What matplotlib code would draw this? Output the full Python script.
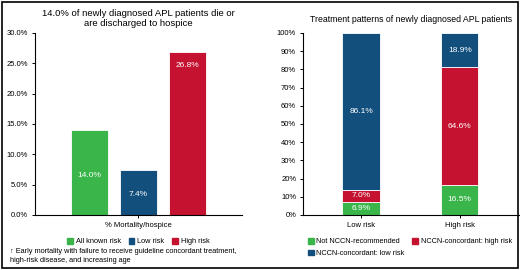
import matplotlib.pyplot as plt
from matplotlib.patches import Rectangle, Patch
from matplotlib.ticker import PercentFormatter

# data - left panel
mort_groups = ['All known risk', 'Low risk', 'High risk']
mort_values = [14.0, 7.4, 26.8]

# data - right panel
risk_cats = ['Low risk', 'High risk']
not_nccn = [6.9, 16.5]
nccn_high = [7.0, 64.6]
nccn_low = [86.1, 18.9]

green = '#3ab54a'
blue = '#134f7d'
red = '#c41230'

plt.rcParams['font.family'] = ['Liberation Sans', 'DejaVu Sans']

fig = plt.figure(figsize=(5.2, 2.7), dpi=100)

# kotak tepi luar
fig.patches.append(Rectangle((0.004, 0.006), 0.992, 0.988, transform=fig.transFigure,
                             fill=False, edgecolor='black', linewidth=1.2))

# panel kiri
ax1 = fig.add_axes([0.067, 0.204, 0.398, 0.674])
pos = [0, 1, 2]
cols = [green, blue, red]
bars = ax1.bar(pos, mort_values, width=0.755, color=cols, edgecolor='white', linewidth=0.6)
label_y = [mort_values[0] / 2 - 0.5, mort_values[1] / 2 - 0.4, mort_values[2] - 2.1]  # posisi label mengikuti gambar asli
for b, v, ly in zip(bars, mort_values, label_y):
    ax1.text(b.get_x() + b.get_width() / 2, ly, f'{v:.1f}%', ha='center', va='center',
             color='white', fontsize=6)
ax1.set_xlim(-1.11, 3.11)
ax1.set_ylim(0, 30)
ax1.set_yticks([0, 5, 10, 15, 20, 25, 30])
ax1.yaxis.set_major_formatter(PercentFormatter(decimals=1))
ax1.set_xticks([1])
ax1.set_xticklabels(['% Mortality/hospice'])
for s in ['top', 'right']:
    ax1.spines[s].set_visible(False)
ax1.tick_params(labelsize=5.5, length=2, width=0.7, pad=3)
ax1.set_title('14.0% of newly diagnosed APL patients die or\nare discharged to hospice', fontsize=6.8, pad=5)
ax1.legend(handles=[Patch(color=c, label=l) for c, l in zip(cols, mort_groups)],
           loc='upper center', bbox_to_anchor=(0.5, -0.09), ncol=3, frameon=False,
           fontsize=5.3, handlelength=0.8, handleheight=0.8, handletextpad=0.4, columnspacing=1.0)
fig.text(0.02, 0.082, '\u2191 Early mortality with failure to receive guideline concordant treatment,\nhigh-risk disease, and increasing age',
         fontsize=5.3, va='top', linespacing=1.4)

# panel kanan
ax2 = fig.add_axes([0.583, 0.204, 0.415, 0.674])
x = [0, 1]
bottom2 = [a + b for a, b in zip(not_nccn, nccn_high)]
b1 = ax2.bar(x, not_nccn, width=0.378, color=green, edgecolor='white', linewidth=0.6)
b2 = ax2.bar(x, nccn_high, width=0.378, bottom=not_nccn, color=red, edgecolor='white', linewidth=0.6)
b3 = ax2.bar(x, nccn_low, width=0.378, bottom=bottom2, color=blue, edgecolor='white', linewidth=0.6)
for i in x:
    ax2.text(i, not_nccn[i] / 2, f'{not_nccn[i]:.1f}%', ha='center', va='center', color='white', fontsize=6)
    ax2.text(i, not_nccn[i] + nccn_high[i] / 2, f'{nccn_high[i]:.1f}%', ha='center', va='center', color='white', fontsize=6)
    ax2.text(i, bottom2[i] + nccn_low[i] / 2, f'{nccn_low[i]:.1f}%', ha='center', va='center', color='white', fontsize=6)
ax2.set_xlim(-0.587, 1.6)
ax2.set_ylim(0, 100)
ax2.set_yticks(range(0, 101, 10))
ax2.yaxis.set_major_formatter(PercentFormatter(decimals=0))
ax2.set_xticks(x)
ax2.set_xticklabels(risk_cats)
for s in ['top', 'right']:
    ax2.spines[s].set_visible(False)
ax2.tick_params(labelsize=5.5, length=2, width=0.7, pad=3)
ax2.set_title('Treatment patterns of newly diagnosed APL patients', fontsize=6.3, pad=8)
ax2.legend(handles=[Patch(color=green, label='Not NCCN-recommended'),
                    Patch(color=blue, label='NCCN-concordant: low risk'),
                    Patch(color=red, label='NCCN-concordant: high risk')],
           loc='upper left', bbox_to_anchor=(-0.01, -0.09), ncol=2, frameon=False,
           fontsize=5.3, handlelength=0.8, handleheight=0.8, handletextpad=0.4,
           columnspacing=1.0, labelspacing=0.6)

fig.savefig('out.png', dpi=100)
